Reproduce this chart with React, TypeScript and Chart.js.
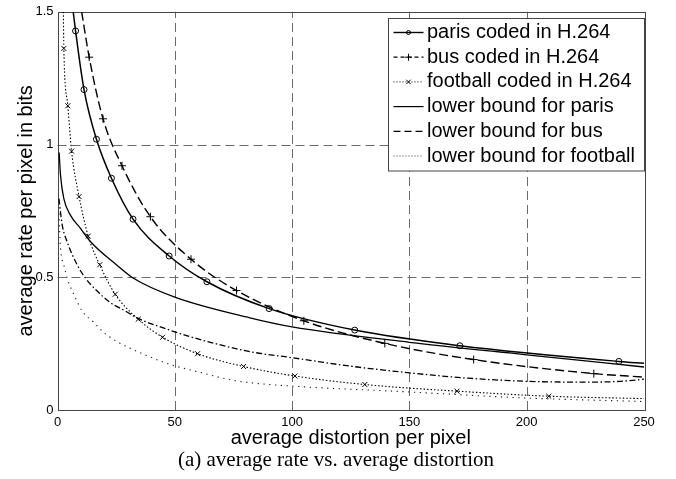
import React, { useEffect, useRef } from "react";
import { Chart, registerables } from "chart.js";

Chart.register(...registerables);

const SANS = "'Liberation Sans', Arial, Helvetica, sans-serif";
const SERIF = "'Liberation Serif', 'Times New Roman', serif";

// axis ticks
const xTicks = [0, 50, 100, 150, 200, 250];
const yTicks = [0, 0.5, 1, 1.5];
const yTickLabels = ["0", "0.5", "1", "1.5"];

// paris coded in H.264 (first/last entries are the line ends, no marker)
const parisCodedX = [6.7, 7.7, 11.3, 16.6, 23.0, 32.2, 47.6, 63.7, 90.2, 126.7, 171.5, 239.3, 250];
const parisCodedY = [1.5, 1.428, 1.207, 1.02, 0.873, 0.719, 0.58, 0.483, 0.382, 0.301, 0.242, 0.183, 0.176];

// bus coded in H.264
const busCodedX = [10.3, 13.5, 19.4, 27.5, 39.6, 56.9, 76.3, 105.0, 139.5, 177.4, 228.6, 250];
const busCodedY = [1.5, 1.329, 1.097, 0.92, 0.728, 0.568, 0.45, 0.336, 0.251, 0.19, 0.137, 0.124];

// football coded in H.264
const footballCodedX = [2.5, 2.7, 4.4, 6.0, 9.2, 13.1, 18.0, 24.6, 34.4, 44.8, 59.7, 79.3, 101.2, 131.0, 170.3, 209.4, 250];
const footballCodedY = [1.5, 1.362, 1.146, 0.975, 0.804, 0.655, 0.547, 0.436, 0.342, 0.274, 0.212, 0.164, 0.128, 0.096, 0.071, 0.052, 0.043];

// lower bound for paris
const lowerParisX = [0.7, 1.3, 2.7, 5.5, 9.8, 14.1, 25.1, 32.2, 50, 82, 100, 150, 200, 250];
const lowerParisY = [0.97, 0.883, 0.796, 0.734, 0.684, 0.634, 0.547, 0.497, 0.425, 0.347, 0.313, 0.255, 0.208, 0.162];

// lower bound for bus
const lowerBusX = [0.6, 2.0, 4.1, 8.4, 11.9, 16.9, 22.6, 27.5, 35.1, 46.5, 55, 82, 100, 125, 150, 175, 200, 225, 240, 250];
const lowerBusY = [0.796, 0.697, 0.634, 0.547, 0.497, 0.448, 0.404, 0.38, 0.342, 0.305, 0.28, 0.22, 0.197, 0.165, 0.14, 0.12, 0.108, 0.105, 0.108, 0.116];

// lower bound for football
const lowerFootballX = [0.6, 1.3, 2.7, 4.1, 7.0, 10.5, 15.5, 19.7, 24.7, 36.5, 47.9, 60.7, 74.7, 82, 100, 150, 200, 250];
const lowerFootballY = [0.74, 0.61, 0.547, 0.497, 0.435, 0.373, 0.33, 0.292, 0.261, 0.211, 0.172, 0.142, 0.112, 0.103, 0.09, 0.068, 0.045, 0.032];

const legendLabels = [
  "paris coded in H.264",
  "bus coded in H.264",
  "football coded in H.264",
  "lower bound for paris",
  "lower bound for bus",
  "lower bound for football",
];

const xTitle = "average distortion per pixel";
const yTitle = "average rate per pixel in bits";
const caption = "(a) average rate vs. average distortion";

const toPts = (xs: number[], ys: number[]) => xs.map((x, i) => ({ x, y: ys[i] }));

const markerAt = (r: number) => (ctx: any) => {
  const n = ctx.dataset.data.length;
  return ctx.dataIndex === 0 || ctx.dataIndex === n - 1 ? 0 : r;
};

function drawMarker(ctx: CanvasRenderingContext2D, kind: string, x: number, y: number, r: number) {
  ctx.save();
  ctx.setLineDash([]);
  ctx.strokeStyle = "#000";
  ctx.lineWidth = 1;
  ctx.beginPath();
  if (kind === "circle") {
    ctx.arc(x, y, r, 0, Math.PI * 2);
  } else if (kind === "plus") {
    ctx.moveTo(x - r, y);
    ctx.lineTo(x + r, y);
    ctx.moveTo(x, y - r);
    ctx.lineTo(x, y + r);
  } else if (kind === "x") {
    ctx.moveTo(x - r, y - r);
    ctx.lineTo(x + r, y + r);
    ctx.moveTo(x - r, y + r);
    ctx.lineTo(x + r, y - r);
  }
  ctx.stroke();
  ctx.restore();
}

const gridFramePlugin = {
  id: "gridFrame",
  beforeDatasetsDraw(chart: any) {
    const { ctx, chartArea } = chart;
    const { left, right, top, bottom } = chartArea;
    const xs = chart.scales.x;
    const ys = chart.scales.y;
    ctx.save();
    ctx.strokeStyle = "#6a6a6a";
    ctx.lineWidth = 1;
    ctx.setLineDash([9, 5]);
    xTicks.slice(1, -1).forEach((v) => {
      const px = Math.round(xs.getPixelForValue(v)) + 0.5;
      ctx.beginPath();
      ctx.moveTo(px, bottom);
      ctx.lineTo(px, top);
      ctx.stroke();
    });
    yTicks.slice(1, -1).forEach((v) => {
      const py = Math.round(ys.getPixelForValue(v)) + 0.5;
      ctx.beginPath();
      ctx.moveTo(left, py);
      ctx.lineTo(right, py);
      ctx.stroke();
    });
    ctx.setLineDash([]);
    ctx.strokeStyle = "#444";
    ctx.strokeRect(Math.round(left) + 0.5, Math.round(top) + 0.5, Math.round(right - left), Math.round(bottom - top));
    ctx.restore();
  },
};

const legendStyles = [
  { dash: [] as number[], marker: "circle", width: 1.4, color: "#000" },
  { dash: [4, 3], marker: "plus", width: 1.2, color: "#000" },
  { dash: [1, 2], marker: "x", width: 1, color: "#000" },
  { dash: [] as number[], marker: "", width: 1.2, color: "#000" },
  { dash: [7, 4], marker: "", width: 1.2, color: "#000" },
  { dash: [1, 2], marker: "", width: 1, color: "#333" },
];

const legendPlugin = {
  id: "boxLegend",
  afterDatasetsDraw(chart: any) {
    const { ctx, chartArea } = chart;
    const boxW = 256;
    const boxH = 152.5;
    const bx = Math.round(chartArea.right - boxW) + 0.5;
    const by = Math.round(chartArea.top + 6) + 0.5;
    ctx.save();
    ctx.fillStyle = "#fff";
    ctx.fillRect(bx, by, boxW, boxH);
    ctx.strokeStyle = "#444";
    ctx.lineWidth = 1;
    ctx.setLineDash([]);
    ctx.strokeRect(bx, by, boxW, boxH);
    ctx.font = `20px ${SANS}`;
    ctx.textBaseline = "middle";
    ctx.textAlign = "left";
    legendLabels.forEach((label, i) => {
      const cy = by + 14 + i * 24.7;
      const st = legendStyles[i];
      ctx.save();
      ctx.strokeStyle = st.color;
      ctx.lineWidth = st.width;
      ctx.setLineDash(st.dash);
      ctx.beginPath();
      ctx.moveTo(bx + 5, cy);
      ctx.lineTo(bx + 35, cy);
      ctx.stroke();
      ctx.restore();
      if (st.marker) drawMarker(ctx, st.marker, bx + 20, cy, st.marker === "circle" ? 2 : st.marker === "plus" ? 3.5 : 2.2);
      ctx.fillStyle = "#000";
      ctx.fillText(label, bx + 38.5, cy);
    });
    ctx.restore();
  },
};

export default function App() {
  const ref = useRef<HTMLCanvasElement>(null);

  useEffect(() => {
    if (!ref.current) return;
    const common = {
      borderColor: "#000",
      cubicInterpolationMode: "monotone" as const,
      fill: false,
      pointBackgroundColor: "rgba(0,0,0,0)",
      pointBorderColor: "#000",
      pointBorderWidth: 1,
      pointHoverRadius: 0,
    };
    const chart = new Chart(ref.current, {
      type: "line",
      data: {
        datasets: [
          {
            ...common,
            label: legendLabels[0],
            data: toPts(parisCodedX, parisCodedY),
            borderWidth: 1.5,
            pointStyle: "circle",
            pointRadius: markerAt(3),
          },
          {
            ...common,
            label: legendLabels[1],
            data: toPts(busCodedX, busCodedY),
            borderWidth: 1.4,
            borderDash: [9, 4],
            pointStyle: "cross",
            pointRadius: markerAt(4),
          },
          {
            ...common,
            label: legendLabels[2],
            data: toPts(footballCodedX, footballCodedY),
            borderWidth: 1.1,
            borderDash: [1.5, 2],
            pointStyle: "crossRot",
            pointRadius: markerAt(3.5),
          },
          {
            ...common,
            label: legendLabels[3],
            data: toPts(lowerParisX, lowerParisY),
            borderWidth: 1.3,
            pointRadius: 0,
          },
          {
            ...common,
            label: legendLabels[4],
            data: toPts(lowerBusX, lowerBusY),
            borderWidth: 1.3,
            borderDash: [6, 2.5, 1.5, 2.5],
            pointRadius: 0,
          },
          {
            ...common,
            label: legendLabels[5],
            data: toPts(lowerFootballX, lowerFootballY),
            borderWidth: 1.1,
            borderColor: "#222",
            borderDash: [1.3, 4.5],
            pointRadius: 0,
          },
        ],
      },
      options: {
        animation: false,
        responsive: false,
        events: [],
        layout: { padding: { left: 0, right: 32, top: 10, bottom: 0 } },
        plugins: {
          legend: { display: false },
          tooltip: { enabled: false },
          title: { display: false },
        },
        scales: {
          x: {
            type: "linear",
            min: 0,
            max: 250,
            afterBuildTicks: (s: any) => {
              s.ticks = xTicks.map((v) => ({ value: v }));
            },
            ticks: {
              color: "#000",
              font: { family: SANS, size: 13 },
              padding: 5,
              maxRotation: 0,
              callback: (v: any) => String(v),
            },
            grid: { display: false, drawTicks: false },
            border: { display: false },
            title: {
              display: true,
              text: xTitle,
              color: "#000",
              font: { family: SANS, size: 20 },
              padding: { top: 0, bottom: 29 },
            },
            afterFit: (s: any) => {
              s.height = 69;
            },
          },
          y: {
            type: "linear",
            min: 0,
            max: 1.5,
            afterBuildTicks: (s: any) => {
              s.ticks = yTicks.map((v) => ({ value: v }));
            },
            ticks: {
              color: "#000",
              font: { family: SANS, size: 13 },
              padding: 4,
              callback: (v: any) => {
                const i = yTicks.indexOf(Number(v));
                return i >= 0 ? yTickLabels[i] : String(v);
              },
            },
            grid: { display: false, drawTicks: false },
            border: { display: false },
            title: {
              display: true,
              text: yTitle,
              color: "#000",
              font: { family: SANS, size: 20 },
              padding: { top: 14, bottom: 0 },
            },
            afterFit: (s: any) => {
              s.width = 57.5;
            },
          },
        },
      },
      plugins: [gridFramePlugin, legendPlugin],
    } as any);
    return () => chart.destroy();
  }, []);

  return (
    <div style={{ position: "fixed", left: 0, top: 0, width: 676, height: 479, background: "#fff" }}>
      <canvas ref={ref} width={676} height={479} style={{ display: "block" }} />
      <div
        style={{
          position: "absolute",
          left: 0,
          top: 447,
          width: 672,
          textAlign: "center",
          fontFamily: SERIF,
          fontSize: 21,
          lineHeight: "24px",
          color: "#000",
          whiteSpace: "pre",
        }}
      >
        {caption}
      </div>
    </div>
  );
}
